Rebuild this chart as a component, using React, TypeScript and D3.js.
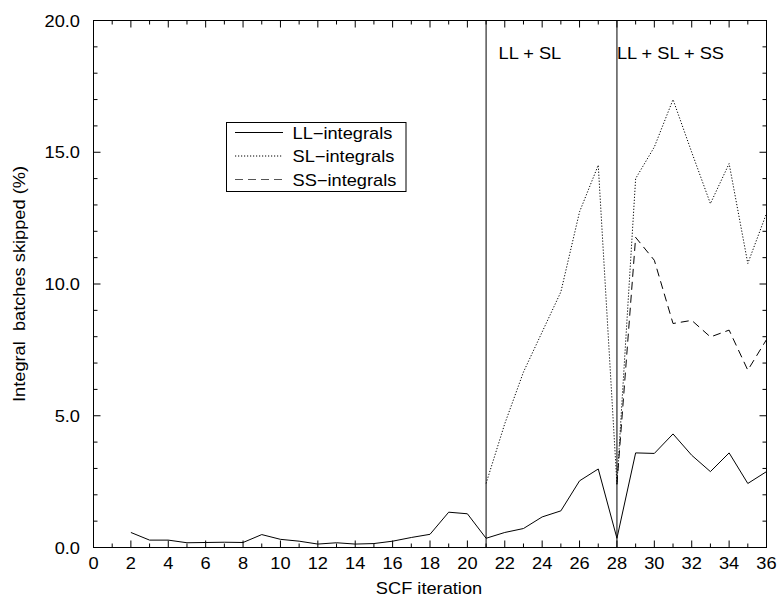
import React from "react";
import * as d3 from "d3";

const W = 778;
const H = 598;

const llIter = [2, 3, 4, 5, 6, 7, 8, 9, 10, 11, 12, 13, 14, 15, 16, 17, 18, 19, 20, 21, 22, 23, 24, 25, 26, 27, 28, 29, 30, 31, 32, 33, 34, 35, 36];
const llValues = [0.57, 0.28, 0.28, 0.18, 0.19, 0.2, 0.19, 0.49, 0.31, 0.24, 0.13, 0.18, 0.13, 0.15, 0.24, 0.38, 0.5, 1.34, 1.28, 0.35, 0.57, 0.72, 1.16, 1.39, 2.53, 2.98, 0.35, 3.59, 3.57, 4.31, 3.5, 2.88, 3.59, 2.43, 2.88];

const slIter = [21, 22, 23, 24, 25, 26, 27, 28, 29, 30, 31, 32, 33, 34, 35, 36];
const slValues = [2.43, 4.7, 6.66, 8.18, 9.7, 12.74, 14.51, 2.4, 14.0, 15.2, 17.0, 15.0, 13.05, 14.57, 10.78, 12.68];

const ssIter = [28, 29, 30, 31, 32, 33, 34, 35, 36];
const ssValues = [2.4, 11.77, 10.9, 8.5, 8.62, 7.99, 8.25, 6.73, 7.89];

const phaseIter = [21, 28];
const phaseLabels = ["LL + SL", "LL + SL + SS"];

const legendLabels = ["LL\u2212integrals", "SL\u2212integrals", "SS\u2212integrals"];

const xTicks = d3.range(0, 37, 1);
const xLabelTicks = d3.range(0, 37, 2);
const yTicks = d3.range(0, 21, 1);
const yLabelTicks = [0, 5, 10, 15, 20];

const FONT = "'Liberation Sans', Arial, Helvetica, sans-serif";
const SX = 1.14;

function T(props: { x: number; y: number; anchor?: string; rotate?: number; children: React.ReactNode }) {
  const { x, y, anchor, rotate, children } = props;
  return (
    <text
      transform={`translate(${x},${y})${rotate ? ` rotate(${rotate})` : ""} scale(${SX},1)`}
      textAnchor={anchor || "start"}
      fontSize={16}
      fill="#000"
      style={{ whiteSpace: "pre" }}
    >
      {children}
    </text>
  );
}

export default function App() {
  const left = 93.5, right = 766.5, top = 20.5, bottom = 547.5;
  const x = d3.scaleLinear().domain([0, 36]).range([left, right]);
  const y = d3.scaleLinear().domain([0, 20]).range([bottom, top]);

  const mk = (xs: number[], vs: number[]) =>
    d3.line<number>().x((_, i) => x(xs[i])).y((v) => y(v))(vs) || "";

  const series = [
    { d: mk(llIter, llValues), dash: undefined as string | undefined },
    { d: mk(slIter, slValues), dash: "1.2,1.8" },
    { d: mk(ssIter, ssValues), dash: "8,5" },
  ];

  const legend = { x: 226.5, y: 122.5, w: 179.5, h: 69 };

  return (
    <svg width={W} height={H} style={{ position: "absolute", left: 0, top: 0, background: "#fff" }} fontFamily={FONT}>
      <rect x={0} y={0} width={W} height={H} fill="#fff" />
      {xTicks.map((t) => {
        const len = t % 2 === 0 ? 7 : 4;
        return (
          <g key={"xt" + t} stroke="#000" strokeWidth={1}>
            <line x1={x(t)} x2={x(t)} y1={bottom} y2={bottom - len} />
            <line x1={x(t)} x2={x(t)} y1={top} y2={top + len} />
          </g>
        );
      })}
      {yTicks.map((t) => {
        const len = t % 5 === 0 ? 7 : 4;
        return (
          <g key={"yt" + t} stroke="#000" strokeWidth={1}>
            <line x1={left} x2={left + len} y1={y(t)} y2={y(t)} />
            <line x1={right} x2={right - len} y1={y(t)} y2={y(t)} />
          </g>
        );
      })}
      <rect x={left} y={top} width={right - left} height={bottom - top} fill="none" stroke="#000" strokeWidth={1} />
      {xLabelTicks.map((t) => (
        <T key={"xl" + t} x={x(t)} y={569} anchor="middle">
          {String(t)}
        </T>
      ))}
      {yLabelTicks.map((t) => (
        <T key={"yl" + t} x={80} y={y(t) + 6} anchor="end">
          {d3.format(".1f")(t)}
        </T>
      ))}
      <T x={(left + right) / 2 - 1} y={594} anchor="middle">
        SCF iteration
      </T>
      <T x={25} y={(top + bottom) / 2} anchor="middle" rotate={-90}>
        {"Integral  batches skipped (%)"}
      </T>
      {phaseIter.map((p, i) => (
        <g key={"ph" + p}>
          <line x1={x(p)} x2={x(p)} y1={top} y2={bottom} stroke="#000" strokeWidth={1} />
          <T x={x(p) + (i === 0 ? 12.5 : 0)} y={58.5}>
            {phaseLabels[i]}
          </T>
        </g>
      ))}
      {series.map((s, i) => (
        <path key={"s" + i} d={s.d} fill="none" stroke="#000" strokeWidth={1} strokeDasharray={s.dash} />
      ))}
      <rect x={legend.x} y={legend.y} width={legend.w} height={legend.h} fill="#fff" stroke="#000" strokeWidth={1} />
      {legendLabels.map((lab, i) => {
        const ly = 132.5 + i * 23.5;
        return (
          <g key={"lg" + i}>
            <line
              x1={235}
              x2={283}
              y1={ly}
              y2={ly}
              stroke={i === 2 ? "#555" : "#000"}
              strokeWidth={1}
              strokeDasharray={series[i].dash}
            />
            <T x={292.5} y={ly + 6}>
              {lab}
            </T>
          </g>
        );
      })}
    </svg>
  );
}
